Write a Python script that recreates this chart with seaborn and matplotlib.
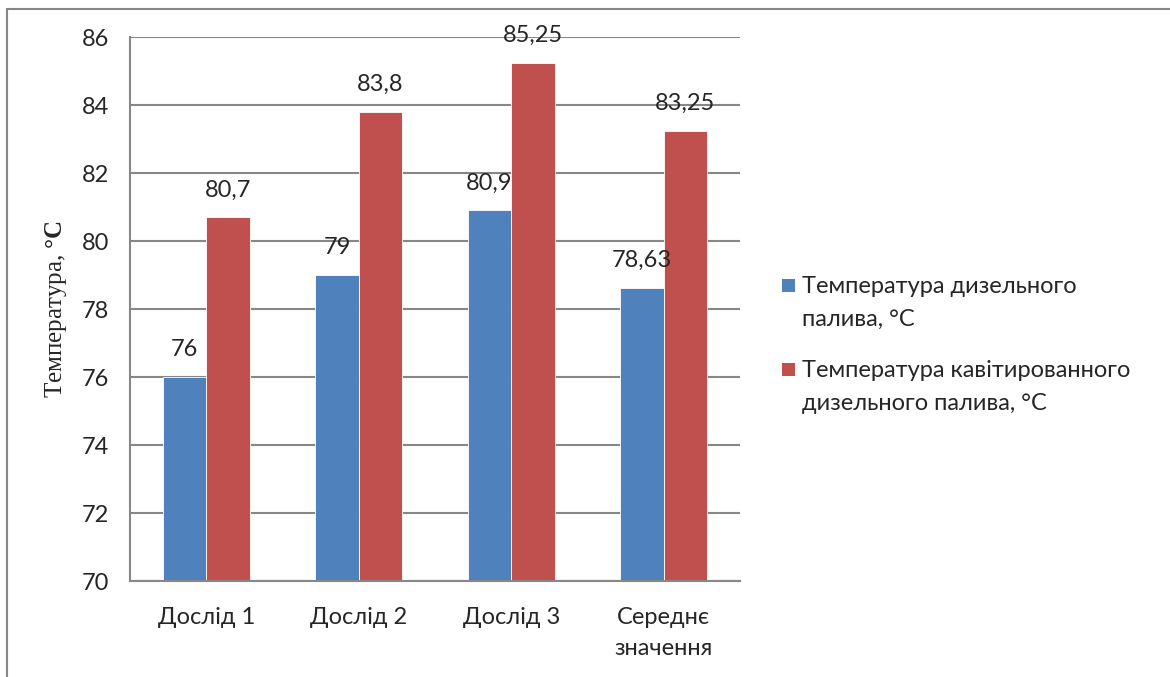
import matplotlib
matplotlib.use("Agg")
import matplotlib.pyplot as plt
from matplotlib.lines import Line2D
from matplotlib.patches import Rectangle
from matplotlib.legend_handler import HandlerBase
import seaborn as sns
import pandas as pd

categories = ["Дослід 1", "Дослід 2", "Дослід 3", "Середнє\nзначення"]
series_names = ["Температура дизельного\nпалива, °C",
                "Температура кавітированного\nдизельного палива, °C"]
fuel_temp = [76, 79, 80.9, 78.63]
cavitated_temp = [80.7, 83.8, 85.25, 83.25]
y_ticks = [70, 72, 74, 76, 78, 80, 82, 84, 86]
colors = ["#4F81BD", "#C0504D"]

sns.set_theme(style="white")
plt.rcParams["font.family"] = ["Lato", "DejaVu Sans"]
plt.rcParams["mathtext.fontset"] = "custom"
plt.rcParams["mathtext.rm"] = "Liberation Serif"
plt.rcParams["mathtext.bf"] = "Liberation Serif:bold"

df = pd.DataFrame({
    "cat": categories * 2,
    "val": fuel_temp + cavitated_temp,
    "series": [series_names[0]] * 4 + [series_names[1]] * 4,
})

grid_c = "#878787"
fs = 17


class TopSquareHandler(HandlerBase):
    """Small colour square aligned with the first line of a two-line label."""

    def create_artists(self, legend, orig_handle, xdescent, ydescent,
                       width, height, fontsize, trans):
        sq = 0.55 * fontsize
        center = -ydescent + height - 2.9
        rect = Rectangle((-xdescent, center - sq / 2), sq, sq,
                         facecolor=orig_handle.get_facecolor(),
                         edgecolor="none", transform=trans)
        return [rect]


fig = plt.figure(figsize=(11.7, 6.77), dpi=100)
ax = fig.add_axes([130 / 1170, 1 - 581 / 677, 610 / 1170, 544 / 677])

sns.barplot(data=df, x="cat", y="val", hue="series", palette=colors,
            width=0.57, saturation=1, ax=ax, legend=True, zorder=3,
            edgecolor="white", linewidth=0.6)

ax.set_ylim(70, 86)
ax.set_xlim(-0.5, 3.5)
ax.set_yticks(y_ticks)
ax.set_yticklabels([str(t) for t in y_ticks], fontsize=fs)
ax.set_xticks(range(len(categories)))
ax.set_xticklabels(categories, fontsize=fs, linespacing=1.55)
ax.set_xticks([-0.5, 0.5, 1.5, 2.5, 3.5], minor=True)
ax.tick_params(axis="x", which="major", length=0, pad=19)
ax.tick_params(axis="x", which="minor", length=8, width=1.5, color=grid_c,
               direction="out")
ax.tick_params(axis="y", length=8, width=1.5, color=grid_c, direction="out",
               pad=7)
ax.set_xlabel("")
ax.set_ylabel(r"Температура, $\mathbf{°C}$",
              fontfamily=["Liberation Serif", "DejaVu Serif"],
              fontsize=18, labelpad=9)

ax.grid(axis="y", color=grid_c, linewidth=1.5, zorder=0)
ax.set_axisbelow(True)
for side in ["top", "right"]:
    ax.spines[side].set_visible(False)
for side in ["left", "bottom"]:
    ax.spines[side].set_color(grid_c)
    ax.spines[side].set_linewidth(1.5)
    ax.spines[side].set_zorder(4)

for cont in ax.containers:
    labels = [f"{v:g}".replace(".", ",") for v in cont.datavalues]
    ax.bar_label(cont, labels=labels, padding=12, fontsize=fs)

handles, labels = ax.get_legend_handles_labels()
ax.get_legend().remove()
leg = fig.legend(handles, labels, loc="center left",
                 bbox_to_anchor=(761 / 1170, 332 / 677), frameon=False,
                 fontsize=fs, handlelength=0.55, handleheight=2.6,
                 handletextpad=0.3, labelspacing=1.25,
                 handler_map={h: TopSquareHandler() for h in handles})
for t in leg.get_texts():
    t.set_linespacing(1.7)

# outer frame: top and left edges
fig.add_artist(Line2D([7 / 1170, 1], [1 - 9 / 677, 1 - 9 / 677],
                      transform=fig.transFigure, color=grid_c, linewidth=1.5))
fig.add_artist(Line2D([7 / 1170, 7 / 1170], [0, 1 - 9 / 677],
                      transform=fig.transFigure, color=grid_c, linewidth=1.5))

fig.savefig("out.png", dpi=100, facecolor="white")
